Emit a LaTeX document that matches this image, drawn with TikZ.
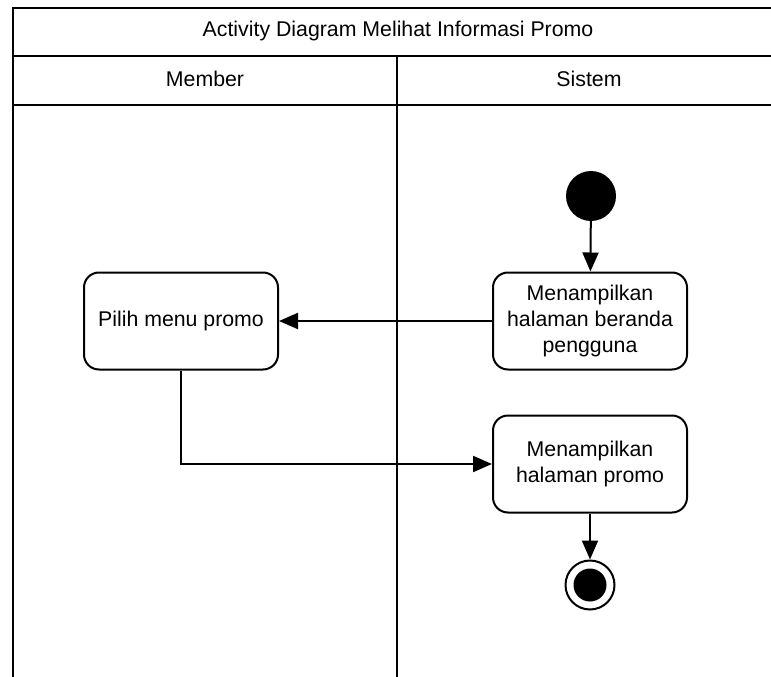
\documentclass[tikz,border=0pt]{standalone}
\usepackage{fontspec}
\setmainfont{Liberation Sans}
\usetikzlibrary{arrows.meta}
\tikzset{
 act/.style={draw,line width=2pt,rounded corners=15pt,align=center,
  minimum width=194pt,minimum height=97pt,inner sep=2pt,
  font=\fontsize{21.3}{26}\selectfont},
 flow/.style={line width=2pt,-{Triangle[length=19pt,width=16pt]}},
 lane/.style={line width=2pt},
 hdr/.style={font=\fontsize{21.3}{26}\selectfont}
}
\begin{document}
\begin{tikzpicture}[x=1pt,y=-1pt]
 \useasboundingbox (0,0) rectangle (771,677);
 % swimlane frame
 \draw[lane](775,8)--(13,8)--(13,680);
 \draw[lane](13,56)--(775,56);
 \draw[lane](13,105)--(775,105);
 \draw[lane](397,56)--(397,680);
 \node[hdr] (title) at (398,31) {Activity Diagram Melihat Informasi Promo};
 \node[hdr] (member) at (205,79) {Member};
 \node[hdr] (sistem) at (589,79) {Sistem};
 % activities
 \node[circle,fill=black,minimum size=50pt,inner sep=0pt] (start) at (591,196) {};
 \node[act] (beranda) at (590,321) {Menampilkan\\halaman beranda\\pengguna};
 \node[act] (pilih) at (181,321) {Pilih menu promo};
 \node[act] (promo) at (590,464) {Menampilkan\\halaman promo};
 \node[circle,draw,line width=2pt,minimum size=49pt,inner sep=0pt] (stop) at (590,585) {};
 \node[circle,fill=black,minimum size=33pt,inner sep=0pt] (stopdot) at (stop) {};
 % flows
 \draw[flow](start)--(beranda);
 \draw[flow](beranda)--(pilih);
 \draw[flow](pilih.south)|-(promo.west);
 \draw[flow](promo)--(stop);
\end{tikzpicture}
\end{document}
